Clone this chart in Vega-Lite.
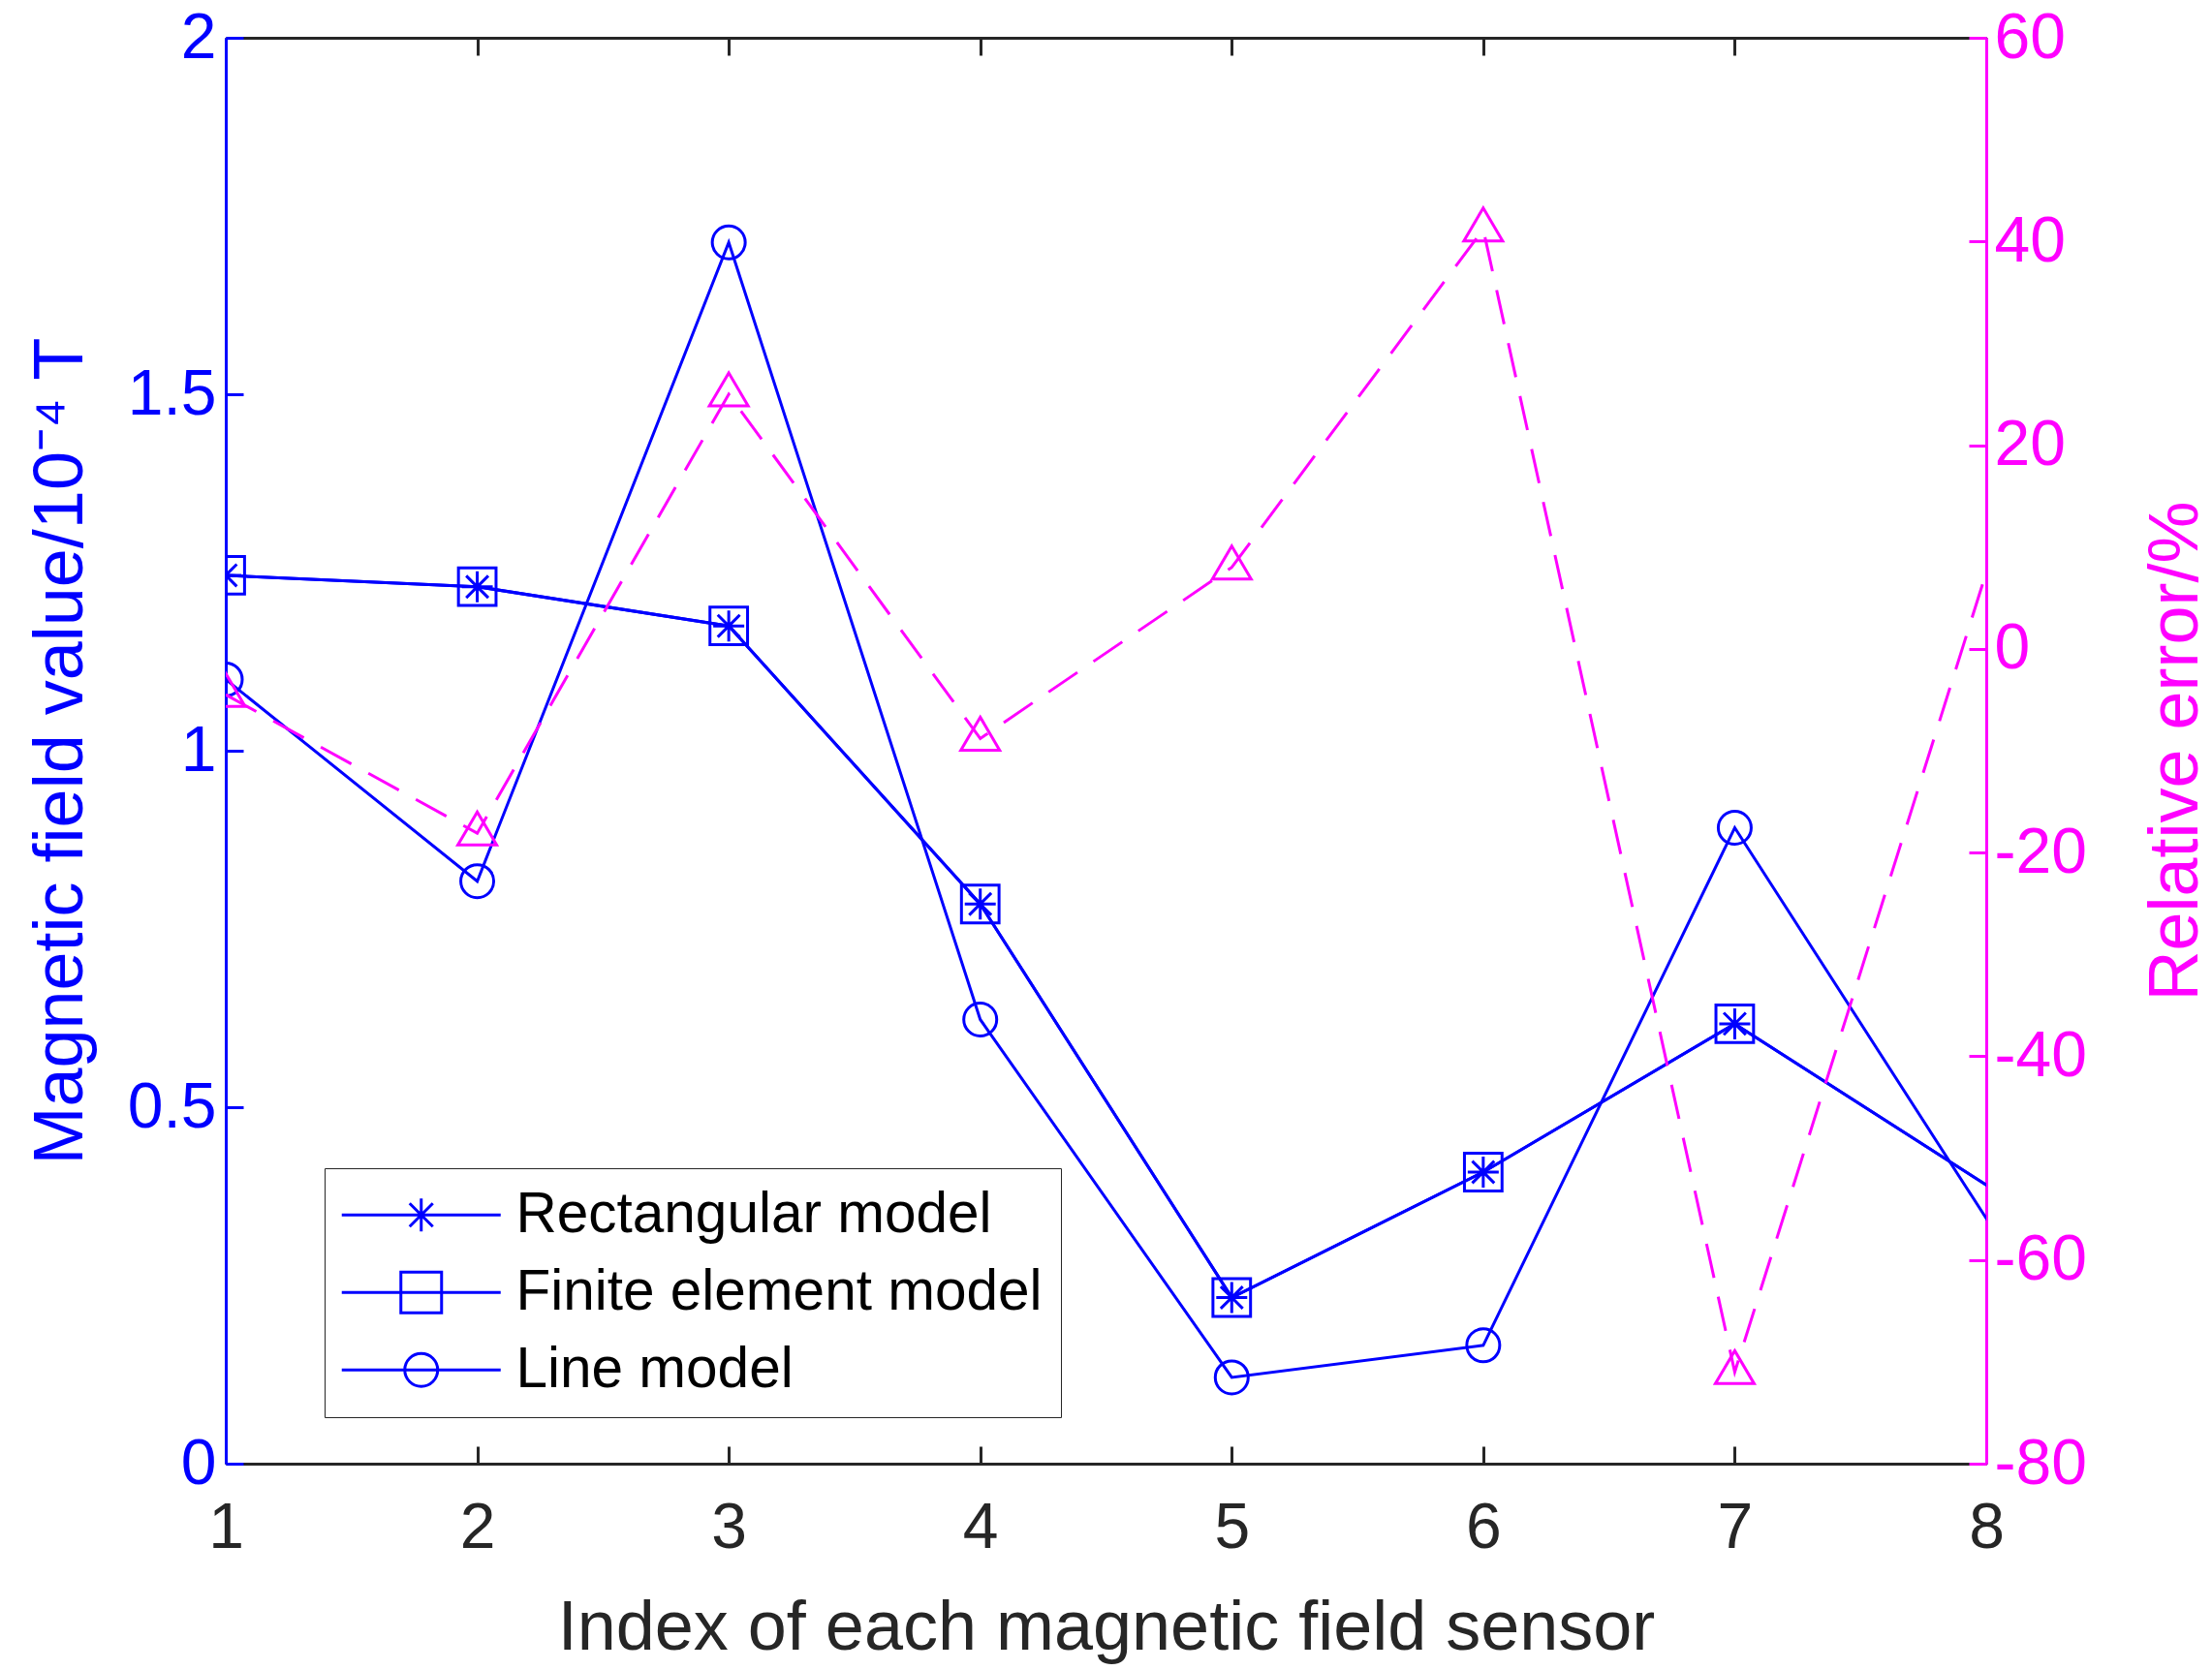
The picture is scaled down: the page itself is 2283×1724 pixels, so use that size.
{
  "$schema": "https://vega.github.io/schema/vega-lite/v6.json",
  "width": 1817,
  "height": 1472,
  "autosize": "none",
  "padding": {"left": 233, "top": 39, "right": 233, "bottom": 213},
  "background": "#ffffff",
  "config": {
    "view": {"stroke": null},
    "font": "Liberation Sans",
    "axis": {
      "grid": false,
      "labelFont": "Liberation Sans",
      "titleFont": "Liberation Sans",
      "labelFontSize": 66,
      "titleFontSize": 72,
      "titleFontWeight": "normal",
      "domainWidth": 3,
      "tickWidth": 3,
      "tickSize": -18,
      "labelFlush": false,
      "labelOverlap": false
    }
  },
  "datasets": {
    "field": [
      {"idx": 1, "series": "Rectangular model", "value": 1.246},
      {"idx": 2, "series": "Rectangular model", "value": 1.230},
      {"idx": 3, "series": "Rectangular model", "value": 1.175},
      {"idx": 4, "series": "Rectangular model", "value": 0.785},
      {"idx": 5, "series": "Rectangular model", "value": 0.233},
      {"idx": 6, "series": "Rectangular model", "value": 0.409},
      {"idx": 7, "series": "Rectangular model", "value": 0.617},
      {"idx": 9, "series": "Rectangular model", "value": 0.165},
      {"idx": 1, "series": "Finite element model", "value": 1.246},
      {"idx": 2, "series": "Finite element model", "value": 1.230},
      {"idx": 3, "series": "Finite element model", "value": 1.175},
      {"idx": 4, "series": "Finite element model", "value": 0.785},
      {"idx": 5, "series": "Finite element model", "value": 0.233},
      {"idx": 6, "series": "Finite element model", "value": 0.409},
      {"idx": 7, "series": "Finite element model", "value": 0.617},
      {"idx": 9, "series": "Finite element model", "value": 0.165},
      {"idx": 1, "series": "Line model", "value": 1.100},
      {"idx": 2, "series": "Line model", "value": 0.817},
      {"idx": 3, "series": "Line model", "value": 1.713},
      {"idx": 4, "series": "Line model", "value": 0.623},
      {"idx": 5, "series": "Line model", "value": 0.121},
      {"idx": 6, "series": "Line model", "value": 0.166},
      {"idx": 7, "series": "Line model", "value": 0.892},
      {"idx": 9, "series": "Line model", "value": -0.204}
    ],
    "err": [
      {"idx": 1, "error": -4.5},
      {"idx": 2, "error": -18.1},
      {"idx": 3, "error": 25.0},
      {"idx": 4, "error": -8.8},
      {"idx": 5, "error": 8.0},
      {"idx": 6, "error": 41.2},
      {"idx": 7, "error": -71.0},
      {"idx": 9, "error": 86.0}
    ]
  },
  "layer": [
    {
      "data": {"name": "field"},
      "encoding": {
        "x": {
          "field": "idx", "type": "quantitative",
          "scale": {"domain": [1, 8], "nice": false, "zero": false},
          "axis": {
            "orient": "bottom",
            "values": [1, 2, 3, 4, 5, 6, 7, 8],
            "labelColor": "#262626", "domainColor": "#262626", "tickColor": "#262626",
            "labelPadding": 52,
            "title": "Index of each magnetic field sensor",
            "titleColor": "#262626",
            "titleBaseline": "alphabetic",
            "titleY": 191,
            "titleX": 908.5
          }
        },
        "y": {
          "field": "value", "type": "quantitative",
          "scale": {"domain": [0, 2], "nice": false, "zero": false},
          "axis": {
            "orient": "left",
            "values": [0, 0.5, 1, 1.5, 2],
            "format": "~g",
            "labelColor": "#0000ff", "domainColor": "#0000ff", "tickColor": "#0000ff",
            "labelPadding": 28,
            "title": "Magnetic field value/10⁻⁴ T",
            "titleColor": "#0000ff",
            "titleAngle": -90,
            "titleBaseline": "alphabetic",
            "titleAlign": "center",
            "titleX": -149,
            "titleY": 736
          }
        }
      },
      "layer": [
        {
          "mark": {"type": "line", "color": "#0000ff", "strokeWidth": 3, "clip": true},
          "encoding": {"detail": {"field": "series", "type": "nominal"}}
        },
        {
          "mark": {"type": "point", "filled": false, "stroke": "#0000ff", "strokeWidth": 3, "size": 1600, "opacity": 1, "clip": true},
          "encoding": {
            "shape": {
              "field": "series", "type": "nominal",
              "scale": {
                "domain": ["Rectangular model", "Finite element model", "Line model"],
                "range": [
                  "M0,-0.8L0,0.8M-0.8,0L0.8,0M-0.57,-0.57L0.57,0.57M-0.57,0.57L0.57,-0.57",
                  "M-0.97,-0.97L0.97,-0.97L0.97,0.97L-0.97,0.97Z",
                  "M0.85,0A0.85,0.85,0,1,1,-0.85,0A0.85,0.85,0,1,1,0.85,0Z"
                ]
              },
              "legend": null
            }
          }
        },
        {
          "transform": [{"filter": "datum.idx > 100"}],
          "mark": {"type": "point", "filled": false, "stroke": "#0000ff", "strokeWidth": 3, "size": 1600, "opacity": 1},
          "encoding": {
            "shape": {
              "field": "series", "type": "nominal",
              "scale": {
                "domain": ["Rectangular model", "Finite element model", "Line model"],
                "range": [
                  "M-4.1,0L4.1,0M0,-0.85L0,0.85M-0.6,-0.6L0.6,0.6M-0.6,0.6L0.6,-0.6",
                  "M-4.1,0L4.1,0M-1.05,-1.05L1.05,-1.05L1.05,1.05L-1.05,1.05Z",
                  "M-4.1,0L4.1,0M0.85,0A0.85,0.85,0,1,1,-0.85,0A0.85,0.85,0,1,1,0.85,0Z"
                ]
              },
              "legend": {
                "orient": "none",
                "legendX": 102,
                "legendY": 1167,
                "title": null,
                "labelFont": "Liberation Sans",
                "labelFontSize": 58.5,
                "labelColor": "#000000",
                "labelLimit": 0,
                "symbolSize": 1600,
                "symbolStrokeWidth": 3,
                "symbolStrokeColor": "#0000ff",
                "symbolFillColor": "transparent",
                "symbolOpacity": 1,
                "symbolOffset": 51.5,
                "labelOffset": 68.5,
                "padding": 19,
                "rowPadding": 21,
                "fillColor": "#ffffff",
                "strokeColor": "#262626",
                "encode": {
                  "legend": {"update": {"strokeWidth": {"value": 3}}}
                }
              }
            }
          }
        }
      ],
      "resolve": {"scale": {"shape": "independent"}}
    },
    {
      "data": {"name": "err"},
      "encoding": {
        "x": {
          "field": "idx", "type": "quantitative",
          "axis": {
            "orient": "top",
            "values": [1, 2, 3, 4, 5, 6, 7, 8],
            "labels": false,
            "title": null,
            "domainColor": "#262626", "tickColor": "#262626"
          }
        },
        "y": {
          "field": "error", "type": "quantitative",
          "scale": {"domain": [-80, 60], "nice": false, "zero": false},
          "axis": {
            "orient": "right",
            "values": [-80, -60, -40, -20, 0, 20, 40, 60],
            "labelExpr": "replace(datum.label, '−', '-')",
            "labelColor": "#ff00ff", "domainColor": "#ff00ff", "tickColor": "#ff00ff",
            "labelPadding": 26,
            "title": "Relative error/%",
            "titleColor": "#ff00ff",
            "titleAngle": -90,
            "titleBaseline": "alphabetic",
            "titleAlign": "center",
            "titleX": 217,
            "titleY": 736
          }
        }
      },
      "layer": [
        {
          "mark": {"type": "line", "color": "#ff00ff", "strokeWidth": 3, "strokeDash": [36, 20], "clip": true}
        },
        {
          "mark": {"type": "point", "filled": false, "stroke": "#ff00ff", "strokeWidth": 3, "size": 1600, "opacity": 1, "clip": true,
                   "shape": "M0,-1.1L1,0.6L-1,0.6Z"}
        }
      ]
    }
  ],
  "resolve": {"scale": {"y": "independent"}, "axis": {"x": "independent"}}
}
